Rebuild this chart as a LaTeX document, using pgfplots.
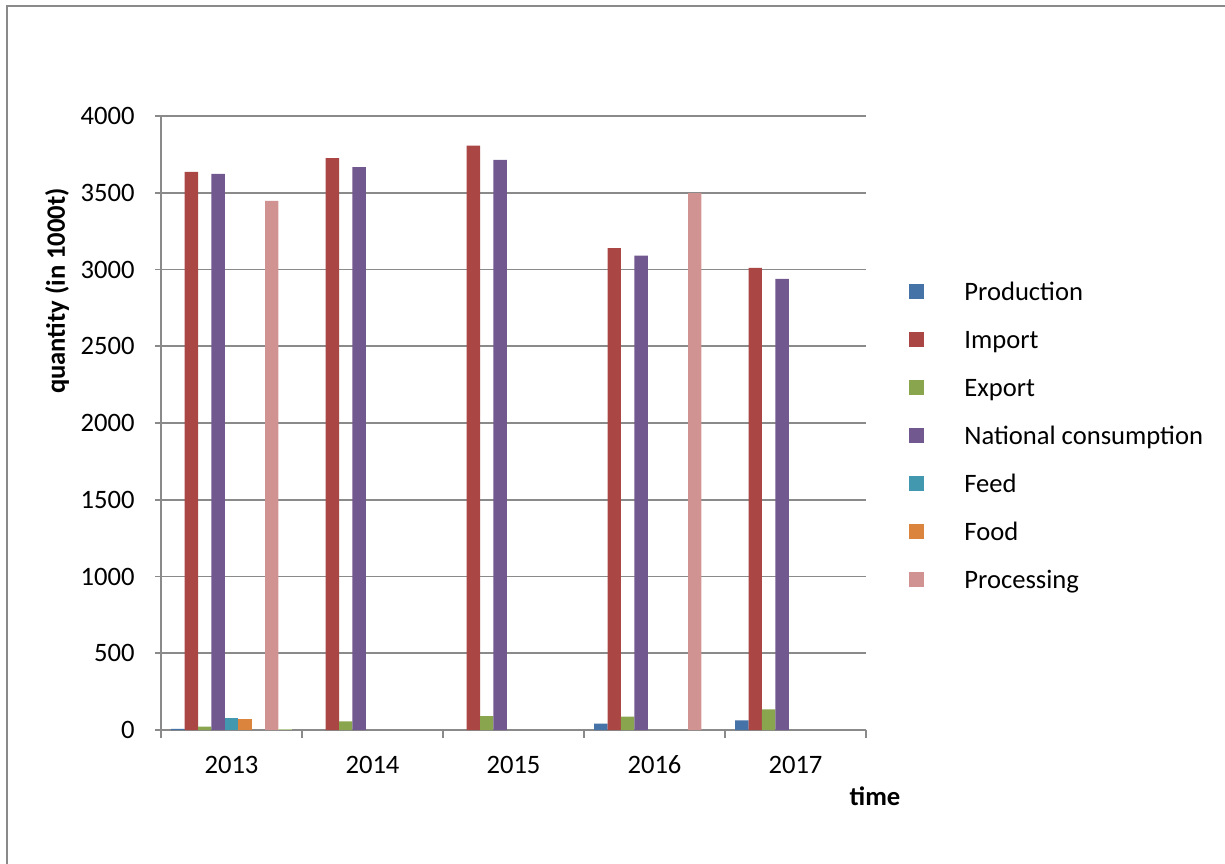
\documentclass[border=0pt]{standalone}
\usepackage{fontspec}
\setmainfont{Carlito}
\usepackage{pgfplots}
\pgfplotsset{compat=1.18}
\definecolor{cA}{HTML}{4572A7}
\definecolor{cB}{HTML}{AA4643}
\definecolor{cC}{HTML}{89A54E}
\definecolor{cD}{HTML}{71588F}
\definecolor{cE}{HTML}{4198AF}
\definecolor{cF}{HTML}{DB843D}
\definecolor{cH}{HTML}{D19392}
\definecolor{cI}{HTML}{B9CD96}
\definecolor{gridgray}{HTML}{8A8A8A}
\begin{document}
\fontsize{13.3}{16}\selectfont
\begin{tikzpicture}
\useasboundingbox (0pt,0pt) rectangle (612.5pt,-431.5pt);
\draw[gridgray, line width=1pt] (3.5pt,-432pt) -- (3.5pt,-3pt) -- (613pt,-3pt);
\begin{axis}[
  at={(80.5pt,-365pt)}, anchor=south west,
  scale only axis, width=352.5pt, height=307pt,
  ymin=0, ymax=4000, ytick={0,500,...,4000},
  xmin=-0.5, xmax=4.5, xtick={0,1,2,3,4},
  xticklabels={2013,2014,2015,2016,2017},
  minor xtick={-0.5,0.5,1.5,2.5,3.5,4.5},
  axis lines*=left,
  axis line style={gridgray, line width=0.9pt},
  tick align=outside,
  major tick length=3pt, minor tick length=4pt,
  major x tick style={draw=none},
  tick style={gridgray, line width=0.9pt},
  ymajorgrids, grid style={gridgray, line width=0.9pt},
  /pgf/number format/assume math mode=true,
  scaled y ticks=false,
  yticklabel={\pgfmathprintnumber[fixed,1000 sep={}]{\tick}},
  yticklabel style={anchor=east, inner sep=0pt, xshift=-10pt},
  xticklabel style={anchor=north, inner sep=0pt, text height=8.4pt, yshift=-10pt},
  ticklabel style={font=\fontsize{13.3}{16}\selectfont},
  ybar, bar width=6.7pt,
  legend style={draw=none, fill=none, inner sep=0pt, at={(1.061,0.731)}, anchor=north west,
    row sep=12pt, column sep=0pt,
    nodes={inner sep=0pt, text height=9.5pt, text depth=2.5pt, font=\fontsize{13.3}{16}\selectfont}},
  legend cell align=left,
  legend image code/.code={\fill[#1] (0pt,-2.95pt) rectangle (7.5pt,4.55pt); \path (0pt,0pt) (27.5pt,0pt);},
]
\addplot[fill=cA, draw=none, bar shift=-26.8pt] coordinates {(0,7) (3,41) (4,63)};
\addlegendentry{Production}
\addplot[fill=cB, draw=none, bar shift=-20.1pt] coordinates {(0,3636) (1,3725) (2,3807) (3,3139) (4,3010)};
\addlegendentry{Import}
\addplot[fill=cC, draw=none, bar shift=-13.4pt] coordinates {(0,22) (1,57) (2,91) (3,87) (4,135)};
\addlegendentry{Export}
\addplot[fill=cD, draw=none, bar shift=-6.7pt] coordinates {(0,3623) (1,3667) (2,3714) (3,3091) (4,2939)};
\addlegendentry{National consumption}
\addplot[fill=cE, draw=none, bar shift=0pt] coordinates {(0,80)};
\addlegendentry{Feed}
\addplot[fill=cF, draw=none, bar shift=6.7pt] coordinates {(0,72)};
\addlegendentry{Food}
\addplot[fill=cH, draw=none, bar shift=20.1pt] coordinates {(0,3447) (3,3497)};
\addlegendentry{Processing}
\addplot[fill=cI, draw=none, bar shift=26.8pt, forget plot] coordinates {(0,5)};
\end{axis}
\node[rotate=90, font=\bfseries\fontsize{13.3}{16}\selectfont] at (28.5pt,-145.5pt) {quantity (in 1000t)};
\node[anchor=base, inner sep=0pt, font=\bfseries\fontsize{13.3}{16}\selectfont] at (437.5pt,-402.5pt) {time};
\end{tikzpicture}
\end{document}
